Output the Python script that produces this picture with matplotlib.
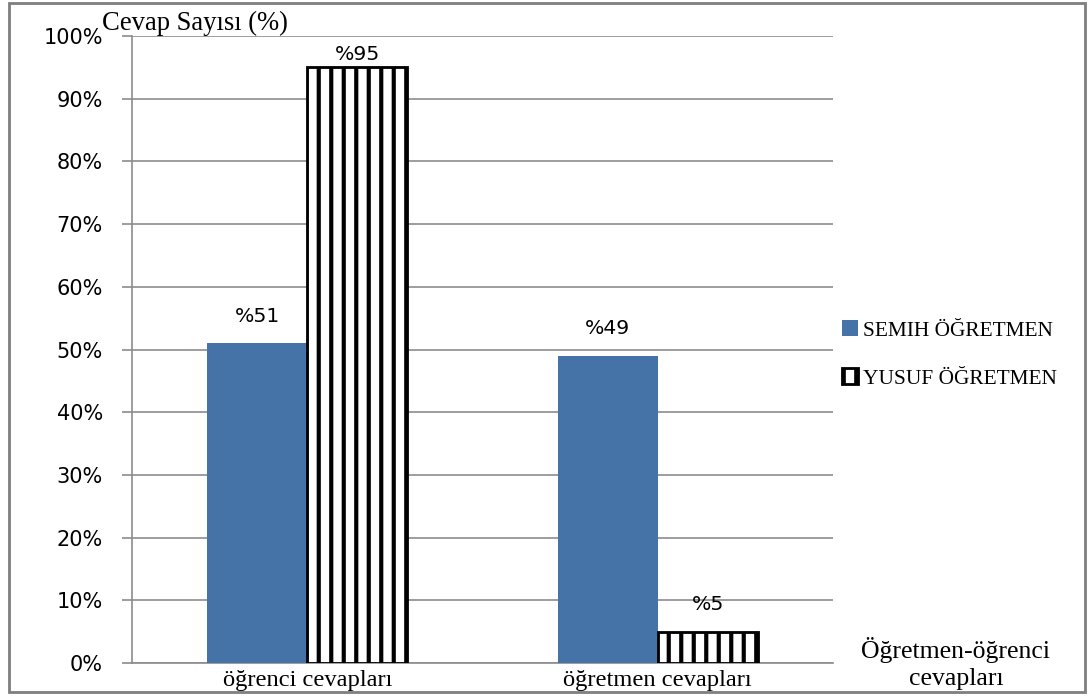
import matplotlib.pyplot as plt
import numpy as np
from matplotlib.patches import Rectangle

categories = ['öğrenci cevapları', 'öğretmen cevapları']
semih = [51, 49]
yusuf = [95, 5]
series_names = ['SEMIH ÖĞRETMEN', 'YUSUF ÖĞRETMEN']
yticks = np.arange(0, 101, 10)

blue = '#4572a7'
grid_gray = '#8c8c8c'
serif = 'Liberation Serif'

# 75 dpi so the '|' hatch gets a stripe every ~12 px; sizes below are in points at that dpi
DPI = 75
plt.rcParams['hatch.linewidth'] = 4.0
plt.rcParams['hatch.color'] = 'black'

fig = plt.figure(figsize=(1090 / DPI, 699 / DPI), dpi=DPI)
ax = fig.add_axes([0.1211, 0.0515, 0.6431, 0.897])

X = np.arange(len(categories))
w = 0.285
b1 = ax.bar(X - w / 2, semih, width=w, color=blue, label=series_names[0], zorder=3)
b2 = ax.bar(X + w / 2, yusuf, width=w, color='white', edgecolor='black', linewidth=2.7,
            hatch='|', label=series_names[1], zorder=3)

# value labels sit above each bar, kept inside the top of the plot
for rect, v in zip(list(b1) + list(b2), semih + yusuf):
    ax.text(rect.get_x() + rect.get_width() / 2, min(v + 4.3, 97), f'%{v}',
            ha='center', va='center', fontsize=19.5, family='DejaVu Sans', zorder=4)

ax.set_xlim(-0.5, 1.5)
ax.set_ylim(0, 100)
ax.set_yticks(yticks)
ax.set_yticklabels([f'{t}%' for t in yticks], fontsize=20, family='DejaVu Sans')
ax.set_xticks(X)
ax.set_xticklabels(categories, fontsize=23.5, family=serif)
ax.tick_params(axis='x', length=0, pad=7)
ax.tick_params(axis='y', length=9.5, color=grid_gray, width=1.6, pad=18.5)
ax.grid(axis='y', color=grid_gray, linewidth=1.6, zorder=0)
for s in ['top', 'right']:
    ax.spines[s].set_visible(False)
for s in ['left', 'bottom']:
    ax.spines[s].set_color(grid_gray)
    ax.spines[s].set_linewidth(1.6)

fig.text(0.094, 0.967, 'Cevap Sayısı (%)', fontsize=25.5, family=serif, va='center')
fig.text(0.877, 0.051, 'Öğretmen-öğrenci\ncevapları', fontsize=24.7, family=serif,
         ha='center', va='center', linespacing=1.28)

leg = ax.legend(loc='center left', bbox_to_anchor=(0.985, 0.492), frameon=False,
                prop={'family': serif, 'size': 20.5}, handlelength=0.75, handleheight=0.75,
                handletextpad=0.25, labelspacing=1.3)

fig.patches.append(Rectangle((0.008, 0.01), 0.987, 0.985, transform=fig.transFigure,
                             fill=False, edgecolor='#808080', linewidth=2.7))

fig.savefig('out.png', dpi=DPI)
